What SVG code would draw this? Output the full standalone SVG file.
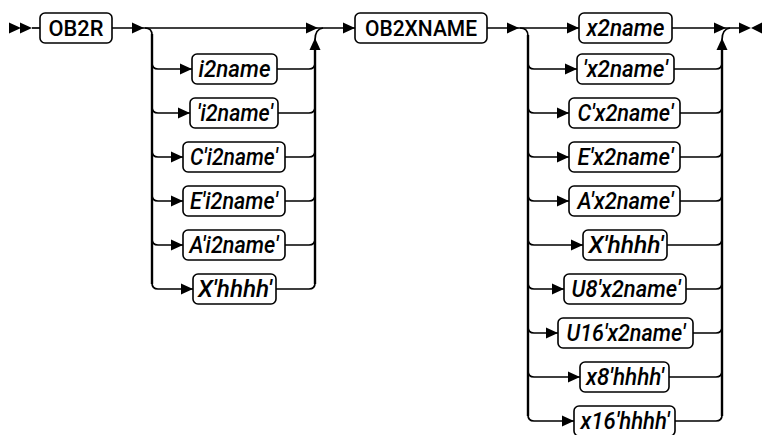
<svg xmlns="http://www.w3.org/2000/svg" xmlns:xlink="http://www.w3.org/1999/xlink" width="762" height="435" viewBox="0 0 762 435">
<style>
.bg{fill:#fff}
.box{fill:#fff;stroke:#000;stroke-width:1.6}
.ln{fill:none;stroke:#000;stroke-width:1.7}
.rail{fill:none;stroke:#000;stroke-width:2.4}
.t{font-family:Roboto,"Liberation Sans",sans-serif;font-size:22px;font-weight:500;fill:#000;text-anchor:middle}
.i{font-style:italic;font-size:23px}
</style>
<defs>
<path id="ar" d="M0 0 L-12 -5.5 L-12 5.5 Z" fill="#000"/>
<path id="au" d="M0 0 L-5.5 12 L5.5 12 Z" fill="#000"/>
<path id="al" d="M0 0 L11 -5.5 L11 5.5 Z" fill="#000"/>
</defs>
<rect class="bg" width="762" height="435"/>
<g id="connectors">
<use xlink:href="#ar" x="21" y="28"/>
<use xlink:href="#ar" x="32" y="28"/>
<path class="ln" d="M32 28 H40"/>
<path class="ln" d="M112 28 H355"/>
<use xlink:href="#ar" x="144" y="28"/>
<use xlink:href="#ar" x="318" y="28"/>
<use xlink:href="#ar" x="355" y="28"/>
<path class="ln" d="M145 28 Q152 28 152 35"/>
<path class="rail" d="M152 34 V284"/>
<path class="ln" d="M152 283 Q152 289 158 289 H193"/>
<path class="ln" d="M152 63 Q152 69 158 69 H192"/>
<path class="ln" d="M152 107 Q152 113 158 113 H190"/>
<path class="ln" d="M152 151 Q152 157 158 157 H183"/>
<path class="ln" d="M152 195 Q152 201 158 201 H183"/>
<path class="ln" d="M152 239 Q152 245 158 245 H183"/>
<use xlink:href="#ar" x="192" y="69"/>
<use xlink:href="#ar" x="190" y="113"/>
<use xlink:href="#ar" x="183" y="157"/>
<use xlink:href="#ar" x="183" y="201"/>
<use xlink:href="#ar" x="183" y="245"/>
<use xlink:href="#ar" x="193" y="289"/>
<path class="ln" d="M276 289 H309 Q315 289 315 283"/>
<path class="rail" d="M315 284 V45"/>
<path class="ln" d="M315 40 Q315 29 323 28"/>
<path class="ln" d="M277 69 H309 Q315 69 315 63"/>
<path class="ln" d="M278 113 H309 Q315 113 315 107"/>
<path class="ln" d="M285 157 H309 Q315 157 315 151"/>
<path class="ln" d="M285 201 H309 Q315 201 315 195"/>
<path class="ln" d="M285 245 H309 Q315 245 315 239"/>
<use xlink:href="#au" x="315" y="38"/>
<path class="ln" d="M487 28 H579"/>
<use xlink:href="#ar" x="519" y="28"/>
<use xlink:href="#ar" x="579" y="28"/>
<path class="ln" d="M520 28 Q528 28 528 36"/>
<path class="rail" d="M528 35 V416"/>
<path class="ln" d="M528 415 Q528 421 534 421 H574"/>
<path class="ln" d="M528 63 Q528 69 534 69 H577"/>
<path class="ln" d="M528 107 Q528 113 534 113 H569"/>
<path class="ln" d="M528 151 Q528 157 534 157 H569"/>
<path class="ln" d="M528 195 Q528 201 534 201 H569"/>
<path class="ln" d="M528 239 Q528 245 534 245 H583"/>
<path class="ln" d="M528 283 Q528 289 534 289 H564"/>
<path class="ln" d="M528 327 Q528 333 534 333 H558"/>
<path class="ln" d="M528 371 Q528 377 534 377 H580"/>
<use xlink:href="#ar" x="577" y="69"/>
<use xlink:href="#ar" x="569" y="113"/>
<use xlink:href="#ar" x="569" y="157"/>
<use xlink:href="#ar" x="569" y="201"/>
<use xlink:href="#ar" x="583" y="245"/>
<use xlink:href="#ar" x="564" y="289"/>
<use xlink:href="#ar" x="558" y="333"/>
<use xlink:href="#ar" x="580" y="377"/>
<use xlink:href="#ar" x="574" y="421"/>
<path class="ln" d="M672 28 H740"/>
<use xlink:href="#ar" x="726" y="28"/>
<path class="ln" d="M675 421 H716 Q722 421 722 415"/>
<path class="rail" d="M722 416 V45"/>
<path class="ln" d="M722 40 Q722 29 730 28"/>
<path class="ln" d="M674 69 H716 Q722 69 722 63"/>
<path class="ln" d="M680 113 H716 Q722 113 722 107"/>
<path class="ln" d="M680 157 H716 Q722 157 722 151"/>
<path class="ln" d="M680 201 H716 Q722 201 722 195"/>
<path class="ln" d="M667 245 H716 Q722 245 722 239"/>
<path class="ln" d="M686 289 H716 Q722 289 722 283"/>
<path class="ln" d="M693 333 H716 Q722 333 722 327"/>
<path class="ln" d="M669 377 H716 Q722 377 722 371"/>
<use xlink:href="#au" x="722" y="38"/>
<use xlink:href="#ar" x="751" y="28"/>
<use xlink:href="#al" x="751" y="28"/>
</g>
<g id="n-ob2r"><rect class="box" x="40" y="13" width="72" height="30" rx="5"/><text class="t" x="76" y="36" textLength="55" lengthAdjust="spacingAndGlyphs">OB2R</text></g>
<g id="n-i2name"><rect class="box" x="192" y="54" width="85" height="30" rx="5"/><text class="t i" x="234.5" y="77" textLength="72" lengthAdjust="spacingAndGlyphs">i2name</text></g>
<g id="n-qi2name"><rect class="box" x="190" y="98" width="88" height="30" rx="5"/><text class="t i" x="235" y="121" textLength="76" lengthAdjust="spacingAndGlyphs">'i2name'</text></g>
<g id="n-ci2name"><rect class="box" x="183" y="142" width="102" height="30" rx="5"/><text class="t i" x="234" y="165" textLength="88" lengthAdjust="spacingAndGlyphs">C'i2name'</text></g>
<g id="n-ei2name"><rect class="box" x="183" y="186" width="102" height="30" rx="5"/><text class="t i" x="234" y="209" textLength="88" lengthAdjust="spacingAndGlyphs">E'i2name'</text></g>
<g id="n-ai2name"><rect class="box" x="183" y="230" width="102" height="30" rx="5"/><text class="t i" x="234" y="253" textLength="89" lengthAdjust="spacingAndGlyphs">A'i2name'</text></g>
<g id="n-xhhhh1"><rect class="box" x="193" y="274" width="83" height="30" rx="5"/><text class="t i" x="235" y="297" textLength="74" lengthAdjust="spacingAndGlyphs">X'hhhh'</text></g>
<g id="n-ob2xname"><rect class="box" x="355" y="13" width="132" height="30" rx="5"/><text class="t" x="421" y="36" textLength="112" lengthAdjust="spacingAndGlyphs">OB2XNAME</text></g>
<g id="n-x2name"><rect class="box" x="579" y="13" width="93" height="30" rx="5"/><text class="t i" x="625.5" y="36" textLength="78" lengthAdjust="spacingAndGlyphs">x2name</text></g>
<g id="n-qx2name"><rect class="box" x="577" y="54" width="97" height="30" rx="5"/><text class="t i" x="625.5" y="77" textLength="85" lengthAdjust="spacingAndGlyphs">'x2name'</text></g>
<g id="n-cx2name"><rect class="box" x="569" y="98" width="111" height="30" rx="5"/><text class="t i" x="625.5" y="121" textLength="96" lengthAdjust="spacingAndGlyphs">C'x2name'</text></g>
<g id="n-ex2name"><rect class="box" x="569" y="142" width="111" height="30" rx="5"/><text class="t i" x="625.5" y="165" textLength="96" lengthAdjust="spacingAndGlyphs">E'x2name'</text></g>
<g id="n-ax2name"><rect class="box" x="569" y="186" width="111" height="30" rx="5"/><text class="t i" x="625.5" y="209" textLength="96" lengthAdjust="spacingAndGlyphs">A'x2name'</text></g>
<g id="n-xhhhh2"><rect class="box" x="583" y="230" width="84" height="30" rx="5"/><text class="t i" x="626" y="253" textLength="75" lengthAdjust="spacingAndGlyphs">X'hhhh'</text></g>
<g id="n-u8x2name"><rect class="box" x="564" y="274" width="122" height="30" rx="5"/><text class="t i" x="626" y="297" textLength="109" lengthAdjust="spacingAndGlyphs">U8'x2name'</text></g>
<g id="n-u16x2name"><rect class="box" x="558" y="318" width="135" height="30" rx="5"/><text class="t i" x="626" y="341" textLength="119" lengthAdjust="spacingAndGlyphs">U16'x2name'</text></g>
<g id="n-x8hhhh"><rect class="box" x="580" y="362" width="89" height="30" rx="5"/><text class="t i" x="625" y="385" textLength="78" lengthAdjust="spacingAndGlyphs">x8'hhhh'</text></g>
<g id="n-x16hhhh"><rect class="box" x="574" y="406" width="101" height="30" rx="5"/><text class="t i" x="625" y="429" textLength="89" lengthAdjust="spacingAndGlyphs">x16'hhhh'</text></g>
</svg>
